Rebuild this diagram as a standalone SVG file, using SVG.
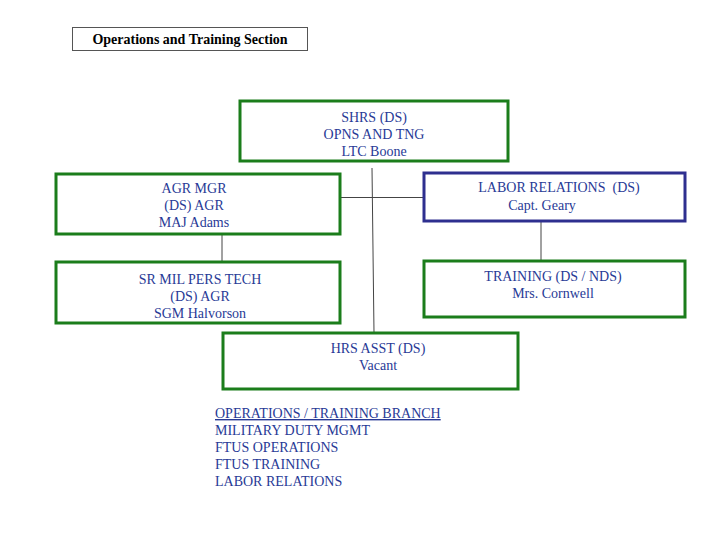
<svg xmlns="http://www.w3.org/2000/svg" width="720" height="540" viewBox="0 0 720 540">
<style>
  .box{fill:#fff;stroke:#1b7d1b;stroke-width:3}
  .bbox{fill:#fff;stroke:#2e2f8f;stroke-width:3}
  .t{font-family:"Liberation Serif","Times New Roman",serif;font-size:14px;fill:#283a96;text-anchor:middle}
  .l{font-family:"Liberation Serif","Times New Roman",serif;font-size:14px;fill:#283a96}
  .c{stroke:#444;stroke-width:1;fill:none}
</style>
<rect width="720" height="540" fill="#fff"/>
<g id="title">
  <rect x="72.5" y="27.5" width="235" height="23" fill="#fff" stroke="#555" stroke-width="1"/>
  <text x="190" y="44" font-family="Liberation Serif,'Times New Roman',serif" font-size="14" font-weight="bold" fill="#000" text-anchor="middle">Operations and Training Section</text>
</g>
<g id="connectors">
  <line class="c" x1="372" y1="168" x2="374" y2="333"/>
  <line class="c" x1="341" y1="197.5" x2="424" y2="197.5"/>
  <line class="c" x1="222" y1="234" x2="222" y2="261"/>
  <line class="c" x1="541" y1="221" x2="541" y2="261"/>
</g>
<g id="shrs">
  <rect class="box" x="240" y="101" width="268" height="60"/>
  <text class="t" x="374" y="122">SHRS (DS)</text>
  <text class="t" x="374" y="139">OPNS AND TNG</text>
  <text class="t" x="374" y="156">LTC Boone</text>
</g>
<g id="agr">
  <rect class="box" x="56" y="174" width="284" height="60"/>
  <text class="t" x="194" y="193">AGR MGR</text>
  <text class="t" x="194" y="210">(DS) AGR</text>
  <text class="t" x="194" y="227">MAJ Adams</text>
</g>
<g id="labor">
  <rect class="bbox" x="424" y="173" width="261" height="48"/>
  <text class="t" x="559" y="192" xml:space="preserve">LABOR RELATIONS  (DS)</text>
  <text class="t" x="542" y="210">Capt. Geary</text>
</g>
<g id="srmil">
  <rect class="box" x="56" y="262" width="284" height="61"/>
  <text class="t" x="200" y="284">SR MIL PERS TECH</text>
  <text class="t" x="200" y="301">(DS) AGR</text>
  <text class="t" x="200" y="318">SGM Halvorson</text>
</g>
<g id="training">
  <rect class="box" x="424" y="261" width="261" height="56"/>
  <text class="t" x="553" y="281">TRAINING (DS / NDS)</text>
  <text class="t" x="553" y="298">Mrs. Cornwell</text>
</g>
<g id="hrsasst">
  <rect class="box" x="223" y="333" width="295" height="56"/>
  <text class="t" x="378" y="353">HRS ASST (DS)</text>
  <text class="t" x="378" y="370">Vacant</text>
</g>
<g id="list">
  <text class="l" x="215" y="418" text-decoration="underline">OPERATIONS / TRAINING BRANCH</text>
  <text class="l" x="215" y="435">MILITARY DUTY MGMT</text>
  <text class="l" x="215" y="452">FTUS OPERATIONS</text>
  <text class="l" x="215" y="469">FTUS TRAINING</text>
  <text class="l" x="215" y="486">LABOR RELATIONS</text>
</g>
</svg>
